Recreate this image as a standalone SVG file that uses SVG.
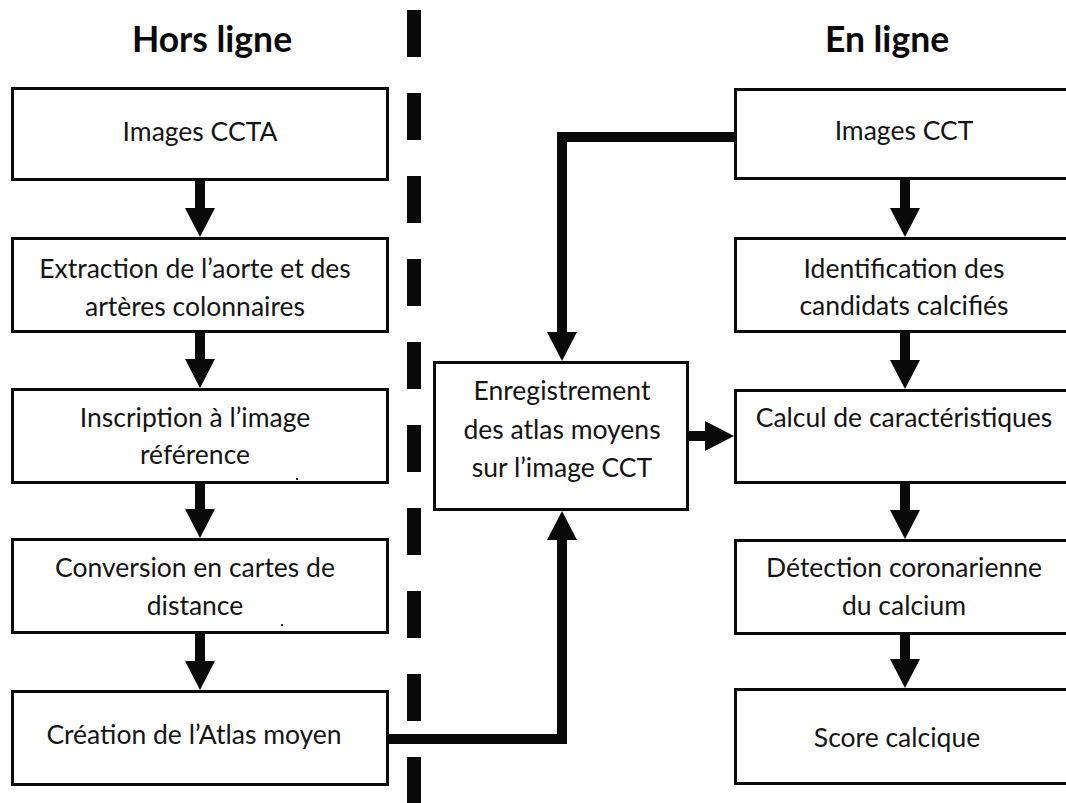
<svg xmlns="http://www.w3.org/2000/svg" width="1066" height="803" viewBox="0 0 1066 803">
  <style>
    .box { fill: #ffffff; stroke: #0a0a0a; stroke-width: 3; }
    .lbl { font-family: Lato, "Liberation Sans", sans-serif; font-size: 26.5px; fill: #141414; text-anchor: middle; }
    .title { font-family: Lato, "Liberation Sans", sans-serif; font-size: 35.5px; font-weight: bold; fill: #0a0a0a; text-anchor: middle; }
    .wire { fill: none; stroke: #0a0a0a; stroke-width: 10; stroke-linejoin: miter; }
    .divider { stroke: #0a0a0a; stroke-width: 14; stroke-dasharray: 47 36; }
    .speck { fill: #222222; }
  </style>
  <defs>
    <marker id="head" markerUnits="userSpaceOnUse" viewBox="0 -15 30 30" refX="1" refY="0" markerWidth="30" markerHeight="30" orient="auto">
      <path d="M0,-15 L29,0 L0,15 z" fill="#0a0a0a"/>
    </marker>
  </defs>

  <rect width="1066" height="803" fill="#ffffff"/>

  <!-- column headings -->
  <g id="headings">
    <text class="title" x="212" y="52">Hors ligne</text>
    <text class="title" x="887" y="52">En ligne</text>
  </g>

  <!-- offline / online divider -->
  <line id="divider" class="divider" x1="414" y1="10" x2="414" y2="803"/>

  <!-- connectors -->
  <g id="connectors">
    <path class="wire" d="M200,180 V209" marker-end="url(#head)"/>
    <path class="wire" d="M200,332 V360" marker-end="url(#head)"/>
    <path class="wire" d="M200,483 V510" marker-end="url(#head)"/>
    <path class="wire" d="M200,633 V662" marker-end="url(#head)"/>

    <path class="wire" d="M905,179 V209" marker-end="url(#head)"/>
    <path class="wire" d="M905,332 V361" marker-end="url(#head)"/>
    <path class="wire" d="M905,483 V511" marker-end="url(#head)"/>
    <path class="wire" d="M905,634 V660" marker-end="url(#head)"/>

    <path class="wire" d="M735,137 H562 V333" marker-end="url(#head)"/>
    <path class="wire" d="M388,739 H562 V539" marker-end="url(#head)"/>
    <path class="wire" d="M688,436 H706" marker-end="url(#head)"/>
  </g>

  <!-- offline pipeline -->
  <g id="images-ccta">
    <rect class="box" x="12.5" y="88.5" width="375" height="91"/>
    <text class="lbl" x="200" y="141">Images CCTA</text>
  </g>
  <g id="extraction">
    <rect class="box" x="12.5" y="238.5" width="375" height="93"/>
    <text class="lbl" x="195" y="278">Extraction de l’aorte et des</text>
    <text class="lbl" x="195" y="316">artères colonnaires</text>
  </g>
  <g id="inscription">
    <rect class="box" x="12.5" y="389.5" width="375" height="93"/>
    <text class="lbl" x="195" y="427">Inscription à l’image</text>
    <text class="lbl" x="195" y="464">référence</text>
    <rect class="speck" x="296" y="478" width="2" height="2"/>
  </g>
  <g id="conversion">
    <rect class="box" x="12.5" y="539.5" width="375" height="93"/>
    <text class="lbl" x="195" y="577">Conversion en cartes de</text>
    <text class="lbl" x="195" y="615">distance</text>
    <rect class="speck" x="281" y="624" width="2" height="2"/>
  </g>
  <g id="atlas-creation">
    <rect class="box" x="12.5" y="691.5" width="375" height="93"/>
    <text class="lbl" x="194" y="744">Création de l’Atlas moyen</text>
  </g>

  <!-- registration step -->
  <g id="registration">
    <rect class="box" x="434.5" y="362.5" width="253" height="147"/>
    <text class="lbl" x="562" y="400">Enregistrement</text>
    <text class="lbl" x="562" y="439">des atlas moyens</text>
    <text class="lbl" x="562" y="477">sur l’image CCT</text>
  </g>

  <!-- online pipeline -->
  <g id="images-cct">
    <rect class="box" x="735.5" y="89.5" width="400" height="89"/>
    <text class="lbl" x="904" y="140">Images CCT</text>
  </g>
  <g id="identification">
    <rect class="box" x="735.5" y="238.5" width="400" height="93"/>
    <text class="lbl" x="904" y="278">Identification des</text>
    <text class="lbl" x="904" y="315">candidats calcifiés</text>
  </g>
  <g id="features">
    <rect class="box" x="735.5" y="390.5" width="400" height="92"/>
    <text class="lbl" x="904" y="427">Calcul de caractéristiques</text>
  </g>
  <g id="detection">
    <rect class="box" x="735.5" y="540.5" width="400" height="93"/>
    <text class="lbl" x="904" y="577">Détection coronarienne</text>
    <text class="lbl" x="904" y="615">du calcium</text>
  </g>
  <g id="score">
    <rect class="box" x="735.5" y="689.5" width="400" height="94"/>
    <text class="lbl" x="897" y="747">Score calcique</text>
  </g>
</svg>
